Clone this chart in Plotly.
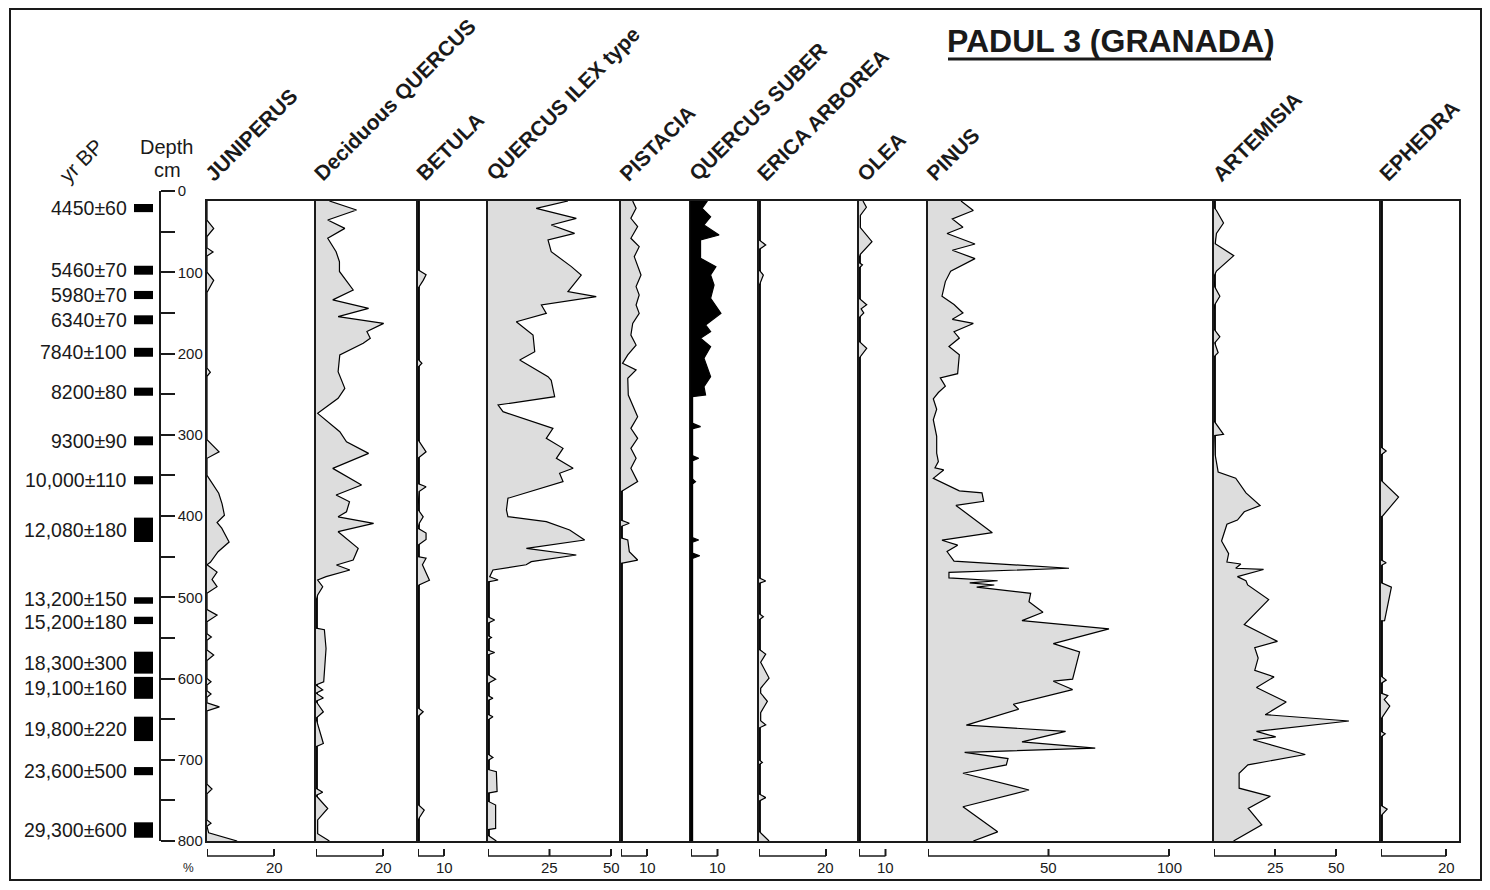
import plotly.graph_objects as go
from plotly.subplots import make_subplots

# the page body keeps an 8px margin, so the figure is drawn 8px smaller on each side
# and every position below is given in page pixels, then shifted by OFF
OFF = 8
W, H = 1490 - 2 * OFF, 890 - 2 * OFF
FONT = "Liberation Sans, Arial, sans-serif"
INK = "#1a1a1a"

taxa = ["JUNIPERUS", "Deciduous QUERCUS", "BETULA", "QUERCUS ILEX type", "PISTACIA",
        "QUERCUS SUBER", "ERICA ARBOREA", "OLEA", "PINUS", "ARTEMISIA", "EPHEDRA"]

# radiocarbon dates: label, top and bottom depth (cm) of the dated slice
age_labels = ["4450±60", "5460±70", "5980±70", "6340±70", "7840±100", "8200±80", "9300±90",
              "10,000±110", "12,080±180", "13,200±150", "15,200±180", "18,300±300",
              "19,100±160", "19,800±220", "23,600±500", "29,300±600"]
age_top = [16, 92, 123, 153, 193, 242, 302, 351, 402, 500, 524, 567, 598, 647, 709, 777]
age_bottom = [26, 103, 133, 164, 204, 252, 313, 361, 432, 508, 533, 594, 625, 677, 719, 796]

# pollen curves, depth (cm) and percentage
juniperus_depth = [12.3, 36, 46, 56, 70, 75, 80, 100, 110, 125, 218, 223, 228, 306, 321, 329, 350, 360,
                   372, 385, 399, 408, 415, 432, 444, 457, 460, 469, 478, 487, 495, 515, 522, 530, 545,
                   549, 553, 565, 571, 578, 600, 604, 608, 615, 619, 623, 630, 635, 640, 730, 736, 742,
                   774, 778, 782, 790, 800]
juniperus_pct = [0, 0, 2, 0, 0, 1.8, 0, 0, 2, 0, 0, 1, 0, 0, 3.6, 0, 0, 1.5,
                 3.5, 4.5, 5.2, 3, 4.4, 6.6, 3.3, 1, 0, 3, 1.5, 3, 0, 0, 3, 0, 0,
                 1.3, 0, 0, 2, 0, 0, 1.2, 0, 0, 1.2, 0, 0, 3.7, 0, 0, 1.5, 0,
                 0, 1.2, 0, 0.5, 9]

quercus_dec_depth = [12.3, 23.4, 35.7, 46, 58.2, 74.7, 87, 99, 121.8, 134, 144.4, 154.7, 162.9, 173,
                     181.3, 187.5, 201.8, 222.4, 242.9, 255.2, 273.7, 296.3, 308.6, 322.9, 341.4,
                     361.9, 374.2, 382.5, 394.8, 401, 409, 419.3, 439.8, 454.2, 460.3, 466.5, 474.7,
                     478.8, 487, 497.2, 505, 538, 540, 563, 604, 608, 614, 618, 624, 628, 641, 649,
                     680, 684, 735, 740, 744, 760, 774, 791, 800]
quercus_dec_pct = [4, 12.1, 3.5, 8.6, 3.5, 6, 7, 7, 11.1, 5, 15.7, 6.6, 20.2, 15.2,
                   16.2, 14.1, 7.1, 6.6, 8.6, 6.6, 0.5, 7.1, 9.1, 15.7, 5,
                   13.6, 6, 10, 9.1, 6.6, 17.2, 6.6, 12.6, 11.1, 6.1, 10.1, 3,
                   0.5, 2, 0.5, 0, 0, 2.5, 3, 2.3, 0, 2, 0, 2.2, 0, 2.2, 0,
                   2.2, 0, 0, 2, 0, 3.5, 0.5, 0.5, 4]

betula_depth = [12.3, 97, 103, 110, 120, 207, 212, 217, 306, 321, 329, 360, 364, 370, 392, 401, 409,
                415, 421, 429, 436, 450, 452, 460, 479, 485, 487, 636, 641, 647, 755, 762, 772, 776, 800]
betula_pct = [0, 0, 3.1, 2, 0, 0, 1.5, 0, 0, 3.1, 0, 0, 3.1, 0.4, 0, 2, 0.5,
              0, 3.1, 3.1, 0, 0, 3.1, 1.7, 4.4, 0.4, 0, 0, 2, 0, 0, 2.4, 0.4, 0, 0]

quercus_ilex_depth = [12.3, 21.3, 33.6, 41.8, 52.1, 60.3, 74.7, 93.1, 103.4, 123.9, 130.1, 140.3,
                      150.6, 160.9, 177.3, 197.8, 208, 228.5, 233, 253.1, 263.4, 271.6, 292.1,
                      304.4, 316.7, 329, 341.3, 347.4, 357.7, 378.2, 392.6, 400.8, 407, 417.2,
                      429.5, 439.8, 448, 456.2, 460, 466.5, 474.7, 478.8, 481, 524, 528, 532, 547,
                      549.5, 552, 565, 568, 571, 595, 601, 606, 621, 624.3, 627, 644, 647, 651, 693,
                      697.3, 701, 712, 714.6, 739, 741, 751, 755.7, 784.5, 786, 793, 800]
quercus_ilex_pct = [32.5, 19.6, 35.9, 25.7, 35.2, 24.4, 25.7, 33.9, 37.9, 32.5, 44, 21.7,
                    23.7, 11.5, 18.3, 19, 12.9, 24.4, 25.7, 27.1, 4.1, 6.1, 26.4,
                    23.7, 30.5, 27.8, 34.6, 29.1, 30.5, 8.1, 7.5, 8.1, 23.7, 33.2,
                    39.3, 15.6, 35.9, 17.6, 15.5, 2, 0.7, 4.1, 0, 0, 2.7, 0, 0,
                    1.4, 0, 0, 2.7, 0, 0, 3.1, 0, 0, 2, 0, 0, 2, 0, 0,
                    2, 0, 0, 3.4, 3.7, 0, 0, 3.1, 3.1, 0, 0, 3.4]

pistacia_depth = [12.3, 21.3, 33.6, 43.9, 58.2, 68.5, 80.8, 103.4, 117.7, 128, 140.3, 150.6, 162.9,
                  177.3, 189.6, 201.8, 212.1, 220.3, 230.6, 251.1, 277.8, 292.1, 304.4, 316.7, 329,
                  341.3, 357.7, 368, 370, 405, 409, 413, 427, 429.5, 443.9, 454.2, 458.3, 800]
pistacia_pct = [4.5, 5.8, 3.8, 6.4, 3.8, 7, 5.1, 7.7, 5.8, 7, 5.8, 7, 4.5,
                3.8, 5.8, 2.6, 0.6, 5.8, 2.6, 2.8, 6.4, 3.8, 6.4, 3.8, 5.8,
                3.8, 6.4, 0.6, 0, 0, 3.2, 0, 0, 2.6, 3.2, 6.4, 0, 0]

quercus_suber_depth = [12.3, 21.3, 31.6, 41.8, 54.1, 60.3, 82.9, 93.1, 103.4, 115.7, 132.1, 150.6,
                       164.9, 173.1, 181.3, 191.6, 205.9, 228.5, 240.8, 251.1, 253.1, 255, 285, 290,
                       293, 325, 329, 333, 353, 357.7, 362, 426, 429.5, 433, 445, 449, 453, 800]
quercus_suber_pct = [6.2, 4.2, 7.4, 4.9, 10.6, 3.6, 3.6, 9.4, 7.4, 8.7, 7.4, 11.3,
                     5.5, 7.4, 3.6, 7.4, 4.9, 7.4, 4.9, 5.5, 0.4, 0, 0, 3.6,
                     0, 0, 2.9, 0, 0, 1.7, 0, 0, 2.9, 0, 0, 3.3, 0, 0]

erica_depth = [12.3, 60, 66.5, 72, 97, 103.4, 117, 476, 480, 483, 520, 524, 528, 564, 569.9, 576,
               580, 599.5, 612, 618, 628, 642, 652, 657.1, 661, 700, 703.2, 706, 742, 746.6, 751,
               788, 800]
erica_pct = [0, 0, 2, 0, 0, 1.3, 0, 0, 2, 0, 0, 1.3, 0, 0, 2, 1,
             0.5, 3, 0.5, 0.5, 2.5, 0.5, 0.5, 2, 0, 0, 1, 0, 0, 2, 0,
             0, 3]

olea_depth = [12.3, 20, 30, 45, 62.4, 78, 83, 88, 91, 95, 132, 140, 145, 150, 156, 185, 193.6,
              204, 206, 800]
olea_pct = [1.5, 2.8, 0.5, 0.5, 4.9, 0.5, 0, 0, 1.3, 0, 0, 2.9, 0.8, 1.8, 0, 0, 2.9,
            0.4, 0, 0]

pinus_depth = [12.3, 24, 34.3, 44.6, 52.3, 65.2, 72.9, 83.2, 98.6, 111.5, 129.5, 139.8, 150.1,
               157.9, 163, 173.3, 181, 191.3, 201.6, 224.8, 230, 240.3, 248, 255.7, 268.6, 281.5,
               302, 322.7, 333, 340.7, 343.3, 353.6, 369, 371.6, 381.9, 387, 420.5, 429.8, 435.9,
               443.7, 455.5, 464.3, 469.4, 476.1, 479.7, 482.3, 484.9, 487.5, 495.2, 505.6, 518.4,
               528.7, 539, 557, 567.3, 600.8, 603.3, 613.6, 631.7, 637.8, 657.4, 665.1, 678, 685.7,
               690.9, 698.6, 706.3, 716.6, 737.2, 757.8, 773.3, 788.7, 800]
pinus_pct = [13.7, 18.8, 10.1, 14.5, 7.9, 19.5, 10.1, 19.5, 9.4, 7.2, 5.8, 10.8, 14.5,
             10.1, 18.8, 10.8, 13, 8.7, 13, 12.3, 5.1, 7.2, 4.3, 2.2, 3.6, 2.2,
             3.6, 3.6, 4.3, 2.9, 6.5, 2.2, 13, 22.4, 23.1, 11.6, 26.7, 5.8, 12.3,
             7.9, 10.8, 58.5, 8.7, 8.7, 28.9, 17.3, 27.5, 20.2, 42.6, 41.9, 47.7,
             39, 75.1, 52, 62.9, 60, 52, 60, 35.4, 37.6, 15.9, 57.1, 39, 69.4,
             15.2, 33.2, 32.5, 14.5, 41.9, 14.5, 21.7, 28.9, 18.8]

artemisia_depth = [12.3, 20, 24, 39.4, 52.3, 65, 79.6, 98.6, 105, 118, 129.5, 140, 150, 170, 179.5,
                   187, 199, 204, 283, 299.5, 301, 325, 345.8, 353.5, 371.6, 387, 394.8, 405, 410.2,
                   430.8, 446.3, 456.6, 459.1, 464.3, 465.8, 474.6, 479.7, 484.9, 502.9, 533.7,
                   554.3, 562, 574.9, 590, 598, 611, 629, 644.5, 652.3, 665.1, 671.8, 675.4, 693.5,
                   706.3, 716.6, 735, 745, 760, 780, 800]
artemisia_pct = [0, 0, 1, 3.9, 1, 0.5, 8.1, 1, 0, 0.3, 2.4, 0.3, 0, 0, 2.4,
                 0.3, 1.7, 0, 0, 3.9, 0.3, 0.5, 1.7, 8.9, 13.1, 18.9, 12.4, 9.6, 5.3,
                 3.1, 6, 5.3, 11, 8.9, 20.3, 9.6, 13.1, 13.8, 22.4, 12.4,
                 26, 16.7, 18.1, 16.7, 24.6, 17.4, 29.6, 21, 55.3, 17.4, 25.3, 16, 37.4,
                 13.9, 10.3, 10.3, 23.1, 14, 19.6, 8]

ephedra_depth = [12.3, 315, 320, 325, 356, 376.7, 400, 401, 454, 457.6, 461, 482, 487.5, 528.7,
                 529, 597, 602, 606, 618, 621, 626, 634, 650, 665, 668, 672, 756, 760.8, 769, 800]
ephedra_pct = [0, 0, 1.6, 0, 0, 5.4, 0.5, 0, 0, 1.6, 0, 0, 3.2, 1.1,
               0, 0, 1.6, 0, 0, 2.1, 1, 2.7, 0, 0, 1.3, 0, 0, 1.9, 0, 0]

scale_ticks = [[20], [20], [10], [25, 50], [10], [10], [20], [10], [50, 100], [25, 50], [20]]

series = [(juniperus_depth, juniperus_pct), (quercus_dec_depth, quercus_dec_pct),
          (betula_depth, betula_pct), (quercus_ilex_depth, quercus_ilex_pct),
          (pistacia_depth, pistacia_pct), (quercus_suber_depth, quercus_suber_pct),
          (erica_depth, erica_pct), (olea_depth, olea_pct), (pinus_depth, pinus_pct),
          (artemisia_depth, artemisia_pct), (ephedra_depth, ephedra_pct)]

# panel geometry in page pixels
panel_edges = [207, 316, 418, 488, 621, 691, 759, 859, 928, 1214, 1381, 1459]
px_per_pct = [3.35, 3.35, 2.6, 2.46, 2.6, 2.65, 3.35, 2.65, 2.41, 2.44, 3.25]
PANEL_TOP, PANEL_BOTTOM = 201, 841
AXIS_TOP = 191
DEPTH_MAX = 800
top_depth = DEPTH_MAX * (PANEL_TOP - AXIS_TOP) / (PANEL_BOTTOM - AXIS_TOP)


def px(x):
    return (x - OFF) / W


def py(y):
    return 1 - (y - OFF) / H


fig = make_subplots(rows=1, cols=11, shared_yaxes=True, horizontal_spacing=0)

for i, (depth, pct) in enumerate(series):
    fill = "black" if taxa[i] == "QUERCUS SUBER" else "#dddddd"
    fig.add_trace(go.Scatter(x=pct, y=depth, mode="lines", fill="tozerox", fillcolor=fill,
                             line=dict(color="black", width=1.2), hoverinfo="skip",
                             showlegend=False), row=1, col=i + 1)

frame = dict(showline=True, mirror=True, linecolor=INK, linewidth=1.5, automargin=False,
             showgrid=False, zeroline=False, showticklabels=False, ticks="")
axes = {}
for i in range(11):
    k = "" if i == 0 else str(i + 1)
    left, right = panel_edges[i], panel_edges[i + 1]
    axes["xaxis" + k] = dict(frame, domain=[px(left), px(right)],
                             range=[0, (right - left) / px_per_pct[i]])
    axes["yaxis" + k] = dict(frame, domain=[py(PANEL_BOTTOM), py(PANEL_TOP)],
                             range=[DEPTH_MAX, top_depth])
fig.update_layout(**axes)

# dated levels as black boxes beside the depth scale
fig.add_trace(go.Bar(x=[0] * len(age_top), base=age_top,
                     y=[b - t for t, b in zip(age_top, age_bottom)], width=1,
                     marker=dict(color="black", line=dict(width=0)), hoverinfo="skip",
                     showlegend=False, xaxis="x12", yaxis="y12"))
fig.update_layout(
    xaxis12=dict(domain=[px(134), px(153)], range=[-0.5, 0.5], visible=False, anchor="y12",
                 automargin=False),
    yaxis12=dict(domain=[py(PANEL_BOTTOM), py(AXIS_TOP)], range=[DEPTH_MAX, 0], anchor="free",
                 position=px(160), side="right", showline=True, linecolor=INK, linewidth=1.5,
                 ticks="outside", ticklen=14, tickwidth=1.5, tickcolor=INK, automargin=False,
                 tickvals=list(range(0, 801, 100)), showgrid=False, zeroline=False,
                 tickfont=dict(family=FONT, size=15, color=INK),
                 minor=dict(ticks="outside", ticklen=14, tickwidth=1.5, tickcolor=INK,
                            dtick=50, showgrid=False)),
)

ann = []
shapes = []
mids = [(t + b) / 2 for t, b in zip(age_top, age_bottom)]
for j, lab in enumerate(age_labels):
    # nudge labels of two close dates apart so their text boxes do not touch
    shift = 0
    if j + 1 < len(mids) and mids[j + 1] - mids[j] < 28:
        shift = 2
    elif j > 0 and mids[j] - mids[j - 1] < 28:
        shift = -2
    ann.append(dict(x=px(128), y=mids[j], xref="paper", yref="y12", text=lab, yshift=shift,
                    xanchor="right", yanchor="middle", showarrow=False, borderpad=0,
                    font=dict(family=FONT, size=19.5, color=INK)))

for i, name in enumerate(taxa):
    ann.append(dict(x=px(panel_edges[i] - 9), y=py(188), xref="paper", yref="paper",
                    text="<b>%s</b>" % name, textangle=-45, xanchor="left", yanchor="bottom",
                    showarrow=False, font=dict(family=FONT, size=21, color=INK)))
    # percentage scale bar under each panel
    xr = "x" if i == 0 else "x%d" % (i + 1)
    end = scale_ticks[i][-1]
    shapes.append(dict(type="line", xref=xr, yref="paper", x0=0, x1=end,
                       y0=py(856), y1=py(856), line=dict(color=INK, width=1.5)))
    for v in [0] + scale_ticks[i]:
        shapes.append(dict(type="line", xref=xr, yref="paper", x0=v, x1=v,
                           y0=py(856), y1=py(849), line=dict(color=INK, width=2)))
    for v in scale_ticks[i]:
        ann.append(dict(x=v, y=py(867), xref=xr, yref="paper", text=str(v), showarrow=False,
                        xanchor="center", yanchor="middle",
                        font=dict(family=FONT, size=15, color=INK)))

ann += [
    dict(x=px(188), y=py(868), xref="paper", yref="paper", text="%", showarrow=False,
         xanchor="center", yanchor="middle", font=dict(family=FONT, size=12, color=INK)),
    dict(x=px(52), y=py(189), xref="paper", yref="paper", text="yr BP", textangle=-45,
         xanchor="left", yanchor="bottom", showarrow=False,
         font=dict(family=FONT, size=21, color=INK)),
    dict(x=px(166), y=py(147), xref="paper", yref="paper", text="Depth", showarrow=False,
         xanchor="center", yanchor="middle", font=dict(family=FONT, size=20, color=INK)),
    dict(x=px(167), y=py(170), xref="paper", yref="paper", text="cm", showarrow=False,
         xanchor="center", yanchor="middle", font=dict(family=FONT, size=20, color=INK)),
    dict(x=px(945), y=py(41), xref="paper", yref="paper", text="<b>PADUL 3 (GRANADA)</b>",
         xanchor="left", yanchor="middle", showarrow=False,
         font=dict(family=FONT, size=32, color=INK)),
]

shapes += [
    # thick baseline of the Quercus suber curve
    dict(type="line", xref="x6 domain", yref="y6 domain", x0=0.01, x1=0.01, y0=0, y1=1,
         line=dict(color="black", width=3)),
    # title underline
    dict(type="line", xref="paper", yref="paper", x0=px(948), x1=px(1271), y0=py(59), y1=py(59),
         line=dict(color=INK, width=3)),
    # outer frame
    dict(type="rect", xref="paper", yref="paper", x0=px(10), x1=px(1481), y0=py(880), y1=py(9),
         line=dict(color=INK, width=2)),
]

fig.update_layout(width=W, height=H, margin=dict(l=0, r=0, t=0, b=0, pad=0),
                  paper_bgcolor="white", plot_bgcolor="white", showlegend=False,
                  annotations=ann, shapes=shapes, font=dict(family=FONT))

fig.write_html("out.html")
